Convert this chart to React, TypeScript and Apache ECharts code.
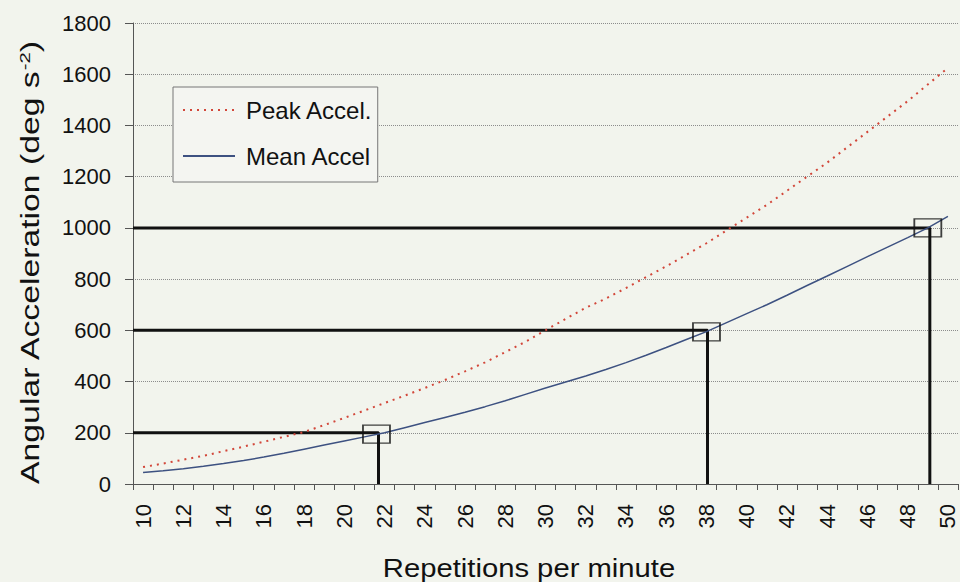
import React, { useEffect, useRef } from "react";
import * as echarts from "echarts";

const reps = [10, 11, 12, 13, 14, 15, 16, 17, 18, 19, 20, 21, 22, 23, 24, 25, 26, 27, 28, 29, 30, 31, 32, 33, 34, 35, 36, 37, 38, 39, 40, 41, 42, 43, 44, 45, 46, 47, 48, 49, 50];
const meanAccel = [45, 52, 60, 69, 80, 92, 105, 120, 136, 152, 168, 184, 200, 220, 240, 260, 280, 302, 325, 350, 375, 398, 422, 447, 474, 503, 533, 564, 595, 630, 665, 700, 737, 775, 812, 850, 888, 925, 962, 1000, 1045];
const peakAccel = [66, 80, 95, 110, 128, 146, 165, 184, 203, 230, 258, 287, 316, 345, 375, 406, 440, 475, 515, 555, 600, 645, 688, 724, 765, 808, 850, 895, 940, 990, 1040, 1090, 1145, 1200, 1255, 1315, 1375, 1435, 1495, 1560, 1625];
const targetAccel = [200, 600, 1000];
const crossingReps = [21.7, 38.05, 49.1];
const boxReps = [21.6, 38, 49];
const boxAccel = [195, 594, 1000];
const xTickLabels = reps.map(String);
const yTicks = [0, 200, 400, 600, 800, 1000, 1200, 1400, 1600, 1800];
const xTitle = "Repetitions per minute";
const yTitle = "Angular Acceleration (deg s{sup|-2})";

const FONT = "'Liberation Sans', Arial, sans-serif";

export default function App() {
  const ref = useRef<HTMLDivElement>(null);
  useEffect(() => {
    if (!ref.current) return;
    const chart = echarts.init(ref.current, undefined, { renderer: "svg" });
    const xMin = reps[0] - 0.5;
    const xMax = reps[reps.length - 1] + 0.5;
    const crossingSeries = targetAccel.map((t, i) => ({
      type: "line",
      name: "cross" + i,
      xAxisIndex: 1,
      data: [
        [xMin, t],
        [crossingReps[i], t],
        [crossingReps[i], 0],
      ],
      symbol: "none",
      lineStyle: { color: "#111", width: 3 },
      z: 3,
      silent: true,
    }));
    chart.setOption({
      animation: false,
      backgroundColor: "#f2f4ed",
      textStyle: { fontFamily: FONT },
      grid: { left: 133, right: 2, top: 23, bottom: 98, containLabel: false },
      graphic: [
        {
          type: "text",
          x: 30,
          y: 263,
          rotation: Math.PI / 2,
          scaleX: 1.35,
          style: {
            text: yTitle,
            fontSize: 25,
            fontFamily: FONT,
            fill: "#111",
            align: "center",
            verticalAlign: "middle",
            rich: { sup: { fontSize: 15, verticalAlign: "top", padding: [0, 0, 10, 0], fill: "#111", fontFamily: FONT } },
          },
        },
        {
          type: "text",
          x: 529,
          y: 568,
          scaleX: 1.17,
          style: {
            text: xTitle,
            fontSize: 25,
            fontFamily: FONT,
            fill: "#111",
            align: "center",
            verticalAlign: "middle",
          },
        },
      ],
      legend: {
        data: ["Peak Accel.", "Mean Accel"],
        orient: "vertical",
        left: 173,
        top: 87,
        itemWidth: 52,
        itemHeight: 26,
        itemGap: 20,
        padding: [10, 5, 13, 9],
        borderColor: "#777",
        borderWidth: 1,
        backgroundColor: "#f4f5f1",
        itemStyle: { opacity: 0 },
        textStyle: { fontSize: 24, lineHeight: 26, color: "#111", fontFamily: FONT, padding: [0, 0, 0, 6] },
      },
      xAxis: [
        {
          type: "category",
          data: xTickLabels,
          boundaryGap: true,
          axisLine: { lineStyle: { color: "#555", width: 1 } },
          axisTick: { show: true, interval: 0, alignWithLabel: false, length: 6, lineStyle: { color: "#555" } },
          axisLabel: { interval: 1, rotate: 90, fontSize: 22, color: "#111", margin: 20, fontFamily: FONT },
          splitLine: { show: false },
        },
        {
          type: "value",
          min: xMin,
          max: xMax,
          show: false,
        },
      ],
      yAxis: {
        type: "value",
        min: yTicks[0],
        max: yTicks[yTicks.length - 1],
        interval: 200,
        axisLine: { show: true, lineStyle: { color: "#555", width: 1 } },
        axisTick: { show: true, length: 8, lineStyle: { color: "#555" } },
        axisLabel: { fontSize: 22, color: "#111", margin: 22, fontFamily: FONT, formatter: (v: number) => String(v) },
        splitLine: { show: true, lineStyle: { color: "#8c8c8c", type: "dotted", width: 1 } },
      },
      series: [
        {
          type: "line",
          name: "Peak Accel.",
          xAxisIndex: 1,
          data: reps.map((r, i) => [r, peakAccel[i]]),
          symbol: "none",
          lineStyle: { color: "#d2473a", width: 2, type: [2, 5] },
          itemStyle: { color: "#d2473a" },
          z: 4,
        },
        {
          type: "line",
          name: "Mean Accel",
          xAxisIndex: 1,
          data: reps.map((r, i) => [r, meanAccel[i]]),
          symbol: "none",
          lineStyle: { color: "#3d5181", width: 1.5 },
          itemStyle: { color: "#3d5181" },
          z: 4,
        },
        ...crossingSeries,
        {
          type: "scatter",
          name: "boxes",
          xAxisIndex: 1,
          data: boxReps.map((r, i) => [r, boxAccel[i]]),
          symbol: "rect",
          symbolSize: [27, 18],
          itemStyle: { color: "rgba(0,0,0,0)", borderColor: "#111", borderWidth: 1.5 },
          z: 5,
          silent: true,
        },
      ],
    });
    return () => chart.dispose();
  }, []);
  return <div ref={ref} style={{ position: "fixed", left: 0, top: 0, width: 960, height: 582 }} />;
}
